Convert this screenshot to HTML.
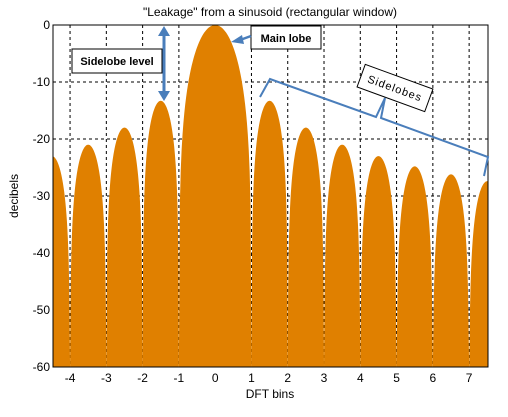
<!DOCTYPE html>
<html><head><meta charset="utf-8"><style>
body{margin:0;background:#fff;}
svg text{font-family:"Liberation Sans",sans-serif;}
</style></head><body>
<svg id="c" width="508" height="412" xmlns="http://www.w3.org/2000/svg">
<defs><clipPath id="pc"><rect x="53" y="25" width="435" height="342"/></clipPath>
<marker id="ah" markerWidth="6" markerHeight="6" refX="3" refY="3" orient="auto"><path d="M0,0L6,3L0,6z" fill="#4a7ebb"/></marker></defs>
<rect x="53" y="25" width="435" height="342" fill="#fff"/>
<g id="grid"></g>
<g id="marks" clip-path="url(#pc)"></g>
<rect x="53" y="25" width="435" height="342" fill="none" stroke="#000" stroke-width="1"/>
<g id="axes"></g>
<text x="270" y="16" text-anchor="middle" font-size="12">"Leakage" from a sinusoid (rectangular window)</text>
<text x="270" y="398" text-anchor="middle" font-size="12">DFT bins</text>
<text x="18" y="196" text-anchor="middle" font-size="12" transform="rotate(-90 18 196)">decibels</text>
<g>
<rect x="72" y="49" width="90" height="24" fill="#fff" stroke="#000"/>
<text x="117" y="65" text-anchor="middle" font-size="11" font-weight="bold">Sidelobe  level</text>
<line x1="164" y1="34" x2="164" y2="93" stroke="#4a7ebb" stroke-width="3"/>
<path d="M158,36L164,26L170,36z M158,91L164,101L170,91z" fill="#4a7ebb"/>
</g>
<g>
<rect x="251" y="26" width="70" height="23" fill="#fff" stroke="#000"/>
<text x="286" y="42" text-anchor="middle" font-size="11" font-weight="bold">Main lobe</text>
<line x1="251" y1="36" x2="240" y2="40" stroke="#4a7ebb" stroke-width="2.5"/>
<path d="M242,35L231,42L244,44z" fill="#4a7ebb"/>
</g>
<g fill="none" stroke="#4a7ebb" stroke-width="2">
<polyline points="260,97 270,79 376,117 385,98 381,118 488,157 484,176"/>
</g>
<g transform="translate(395,88) rotate(20)">
<rect x="-36" y="-12" width="72" height="24" fill="#fff" stroke="#000"/>
<text x="0" y="4" text-anchor="middle" font-size="11" letter-spacing="1">Sidelobes</text>
</g>
</svg>
<script>
// Lobe data
const lobeCenters = [-4.5,-3.5,-2.5,-1.5,0,1.5,2.5,3.5,4.5,5.5,6.5,7.5];
const lobePeaks = [-23,-21,-18,-13.3,0,-13.3,-18,-21,-23,-24.8,-26.2,-27.4];
const xTicks = [-4,-3,-2,-1,0,1,2,3,4,5,6,7];
const yTicks = [0,-10,-20,-30,-40,-50,-60];
const X0=53,X1=488,Y0=25,Y1=367, xmin=-4.47, xmax=7.52, ymin=-60, ymax=0;
const sx=v=>X0+(v-xmin)/(xmax-xmin)*(X1-X0);
const sy=v=>Y0+(ymax-Math.max(ymin,Math.min(ymax,v)))/(ymax-ymin)*(Y1-Y0);
const NS="http://www.w3.org/2000/svg";
const grid=document.getElementById('grid'), marks=document.getElementById('marks'), axes=document.getElementById('axes');
xTicks.forEach(t=>{
  const l=document.createElementNS(NS,'line');
  
  
  l.setAttribute('x1',sx(t));l.setAttribute('x2',sx(t));l.setAttribute('y1',Y0);l.setAttribute('y2',Y1);
  l.setAttribute('stroke','#000');l.setAttribute('stroke-dasharray','3,3');l.setAttribute('stroke-width','1');
  grid.appendChild(l);
  const tx=document.createElementNS(NS,'text');
  
  
  tx.setAttribute('x',sx(t));tx.setAttribute('y',Y1+15);tx.setAttribute('text-anchor','middle');tx.setAttribute('font-size','12');
  tx.textContent=t;axes.appendChild(tx);
});
yTicks.forEach(t=>{
  const l=document.createElementNS(NS,'line');
  
  
  l.setAttribute('x1',X0);l.setAttribute('x2',X1);l.setAttribute('y1',sy(t));l.setAttribute('y2',sy(t));
  l.setAttribute('stroke','#000');l.setAttribute('stroke-dasharray','3,3');
  grid.appendChild(l);
  const tx=document.createElementNS(NS,'text');
  
  
  tx.setAttribute('x',X0-3);tx.setAttribute('y',sy(t)+4);tx.setAttribute('text-anchor','end');tx.setAttribute('font-size','12');
  tx.textContent=t;axes.appendChild(tx);
});
lobeCenters.forEach((c,i)=>{
  const main = c===0;
  const half = main?1:0.5;
  let d='M'+sx(c-half)+','+Y1;
  for(let k=0;k<=80;k++){
    const x=c-half+2*half*k/80;
    let v;
    if(main){const u=Math.PI*x; v= Math.abs(x)<1e-6?0:20*Math.log10(Math.max(1e-6,Math.abs(Math.sin(u)/u)));}
    else {v=lobePeaks[i]+20*Math.log10(Math.max(1e-6,Math.abs(Math.cos(Math.PI*(x-c)))));}
    d+='L'+sx(x).toFixed(2)+','+sy(v).toFixed(2);
  }
  d+='L'+sx(c+half)+','+Y1+'Z';
  const p=document.createElementNS(NS,'path');
  
  
  p.setAttribute('d',d);p.setAttribute('fill','#e08000');
  marks.appendChild(p);
});
</script>
</body></html>
